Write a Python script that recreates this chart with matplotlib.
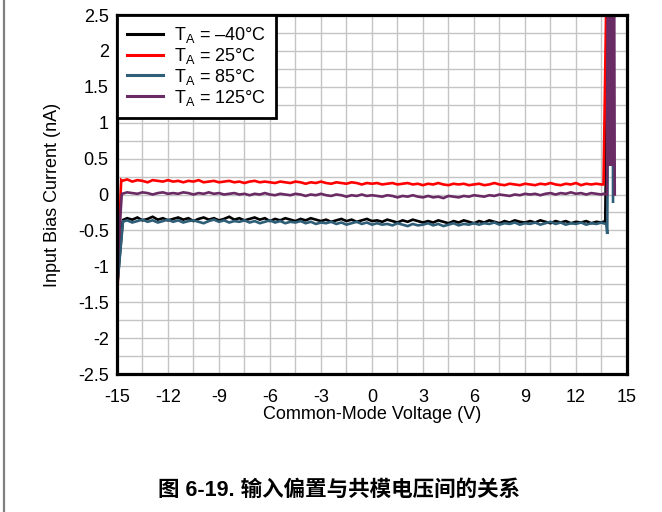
import numpy as np
import matplotlib
matplotlib.use("Agg")
import matplotlib.pyplot as plt
from matplotlib.lines import Line2D
from matplotlib.ticker import MultipleLocator

plt.rcParams['font.family'] = ['Liberation Sans', 'Noto Sans CJK SC', 'DejaVu Sans']
plt.rcParams['mathtext.fontset'] = 'custom'
plt.rcParams['mathtext.rm'] = 'Liberation Sans'
plt.rcParams['axes.unicode_minus'] = False

# common plateau sampling (V)
v_flat = np.linspace(-14.7, 13.5, 95)

labels = ['T$_\\mathregular{A}$ = \u201340°C', 'T$_\\mathregular{A}$ = 25°C',
          'T$_\\mathregular{A}$ = 85°C', 'T$_\\mathregular{A}$ = 125°C']
colors = ['#000000', '#ff0000', '#2f5f78', '#6a2a64']

# input bias current plateau (nA)
i_m40 = [-0.36, -0.33, -0.35, -0.32, -0.36, -0.34, -0.31, -0.35, -0.33, -0.36,
         -0.34, -0.32, -0.35, -0.33, -0.37, -0.34, -0.32, -0.35, -0.33, -0.36,
         -0.34, -0.31, -0.35, -0.33, -0.36, -0.34, -0.32, -0.35, -0.33, -0.37,
         -0.34, -0.36, -0.33, -0.35, -0.37, -0.34, -0.36, -0.33, -0.35, -0.37,
         -0.35, -0.38, -0.36, -0.34, -0.37, -0.35, -0.38, -0.36, -0.34, -0.37,
         -0.36, -0.38, -0.35, -0.37, -0.39, -0.36, -0.38, -0.35, -0.37, -0.39,
         -0.37, -0.39, -0.36, -0.38, -0.40, -0.37, -0.39, -0.36, -0.38, -0.40,
         -0.37, -0.39, -0.36, -0.38, -0.40, -0.37, -0.39, -0.36, -0.38, -0.39,
         -0.37, -0.39, -0.36, -0.38, -0.40, -0.37, -0.39, -0.37, -0.40, -0.38,
         -0.39, -0.37, -0.40, -0.38, -0.39]
i_25 = [0.19, 0.21, 0.18, 0.20, 0.19, 0.17, 0.20, 0.19, 0.18, 0.20,
        0.18, 0.19, 0.17, 0.19, 0.18, 0.20, 0.17, 0.18, 0.19, 0.17,
        0.18, 0.19, 0.17, 0.18, 0.16, 0.18, 0.19, 0.17, 0.18, 0.17,
        0.16, 0.18, 0.17, 0.16, 0.18, 0.17, 0.15, 0.17, 0.16, 0.18,
        0.16, 0.15, 0.17, 0.16, 0.15, 0.17, 0.16, 0.14, 0.16, 0.15,
        0.16, 0.14, 0.15, 0.16, 0.14, 0.15, 0.16, 0.14, 0.15, 0.13,
        0.15, 0.14, 0.16, 0.14, 0.13, 0.15, 0.14, 0.15, 0.13, 0.14,
        0.15, 0.13, 0.14, 0.16, 0.14, 0.13, 0.15, 0.14, 0.13, 0.15,
        0.14, 0.13, 0.15, 0.14, 0.16, 0.14, 0.13, 0.15, 0.14, 0.16,
        0.13, 0.15, 0.14, 0.15, 0.14]
i_85 = [-0.38, -0.36, -0.39, -0.37, -0.35, -0.38, -0.36, -0.39, -0.37, -0.35,
        -0.38, -0.36, -0.39, -0.37, -0.36, -0.38, -0.40, -0.37, -0.35, -0.38,
        -0.36, -0.39, -0.37, -0.38, -0.36, -0.39, -0.37, -0.40, -0.38, -0.36,
        -0.39, -0.37, -0.40, -0.38, -0.39, -0.37, -0.40, -0.38, -0.41, -0.39,
        -0.40, -0.38, -0.41, -0.39, -0.42, -0.40, -0.38, -0.41, -0.39, -0.42,
        -0.40, -0.42, -0.41, -0.43, -0.40, -0.42, -0.44, -0.41, -0.43, -0.42,
        -0.40, -0.43, -0.41, -0.44, -0.42, -0.40, -0.43, -0.41, -0.42, -0.40,
        -0.42, -0.40, -0.41, -0.39, -0.42, -0.40, -0.41, -0.39, -0.42, -0.40,
        -0.41, -0.39, -0.42, -0.40, -0.38, -0.41, -0.39, -0.42, -0.40, -0.41,
        -0.39, -0.42, -0.40, -0.41, -0.39]
i_125 = [0.01, 0.03, 0.02, 0.01, 0.03, 0.02, 0.00, 0.02, 0.03, 0.01,
         0.02, 0.01, 0.03, 0.02, 0.00, 0.02, 0.01, 0.03, 0.01, 0.02,
         0.00, 0.01, 0.02, 0.00, 0.01, -0.01, 0.01, 0.00, 0.02, 0.00,
         -0.01, 0.01, 0.00, -0.01, 0.01, 0.00, -0.02, 0.00, -0.01, 0.01,
         -0.01, -0.02, 0.00, -0.01, -0.03, -0.01, -0.02, 0.00, -0.02, -0.01,
         -0.02, -0.03, -0.01, -0.02, -0.04, -0.02, -0.03, -0.01, -0.03, -0.04,
         -0.02, -0.04, -0.03, -0.05, -0.02, -0.03, -0.04, -0.02, -0.03, -0.01,
         -0.02, -0.03, -0.01, -0.02, 0.00, -0.01, -0.02, 0.00, -0.01, 0.01,
         0.00, 0.01, -0.01, 0.01, 0.02, 0.00, 0.02, 0.01, 0.03, 0.01,
         0.02, 0.00, 0.02, 0.01, 0.00]

# start-up edge near -15 V and the rail edge near +14 V
start_v = {'m40': [-14.97, -14.66], '25': [-14.95, -14.78, -14.75],
           '85': [-14.97, -14.65], '125': [-14.96, -14.93, -14.72]}
start_i = {'m40': [-1.22, -0.36], '25': [-1.22, 0.05, 0.20],
           '85': [-1.24, -0.38], '125': [-1.22, -0.80, 0.00]}
end_v = {'m40': [13.6, 13.72, 13.9], '25': [13.62, 13.8],
         '85': [13.6, 13.78, 13.84, 13.92, 14.15, 14.18],
         '125': [13.6, 13.82, 13.88, 13.94, 14.0, 14.06, 14.12, 14.18, 14.24, 14.28]}
end_i = {'m40': [-0.38, -0.40, 3.0], '25': [0.14, 3.0],
         '85': [-0.40, -0.41, -0.55, 3.0, 3.0, -0.10],
         '125': [0.01, 0.00, 3.5, 0.4, 3.5, 0.4, 3.5, 0.4, 3.5, 0.00]}

flat = {'m40': i_m40, '25': i_25, '85': i_85, '125': i_125}
keys = ['m40', '25', '85', '125']

fs = 13

fig = plt.figure(figsize=(6.62, 5.12), dpi=100)
ax = fig.add_axes([0.1767, 0.2695, 0.7704, 0.7012])

for k, lab, c in zip(keys, labels, colors):
    v = np.concatenate([start_v[k], v_flat, end_v[k]])
    i = np.concatenate([start_i[k], flat[k], end_i[k]])
    ax.plot(v, i, color=c, lw=1.9, label=lab, solid_joinstyle='miter')

ax.set_xlim(-15, 15)
ax.set_ylim(-2.5, 2.5)
ax.xaxis.set_major_locator(MultipleLocator(3))
ax.xaxis.set_minor_locator(MultipleLocator(1.5))
ax.yaxis.set_major_locator(MultipleLocator(0.5))
ax.yaxis.set_minor_locator(MultipleLocator(0.25))
ax.set_yticks(np.arange(-2.5, 2.51, 0.5))
ax.set_yticklabels(['-2.5', '-2', '-1.5', '-1', '-0.5', '0', '0.5', '1', '1.5', '2', '2.5'])
ax.grid(which='both', color='#c4c4c4', lw=1.0)
ax.set_axisbelow(True)
ax.tick_params(which='both', length=0, labelsize=fs)
ax.tick_params(axis='x', pad=11)
ax.tick_params(axis='y', pad=6)
for s in ax.spines.values():
    s.set_linewidth(2.3)

ax.set_xlabel('Common-Mode Voltage (V)', fontsize=fs, labelpad=0)
ax.set_ylabel('Input Bias Current (nA)', fontsize=fs, labelpad=12)

leg = ax.legend(loc='upper left', bbox_to_anchor=(0, 1), borderaxespad=0,
                fancybox=False, framealpha=1, edgecolor='black', fontsize=fs,
                handlelength=2.0, handletextpad=0.6, labelspacing=0.05,
                borderpad=0.55)
leg.get_frame().set_linewidth(2.0)
for h in leg.get_lines():
    h.set_linewidth(2.2)

fig.add_artist(Line2D([0.006, 0.006], [0, 1], transform=fig.transFigure,
                      color='#7f7f7f', lw=1.6))
fig.text(0.512, 0.043, '图 6-19. 输入偏置与共模电压间的关系', ha='center', va='center',
         fontsize=15.5, fontweight='bold')

fig.savefig('out.png', dpi=100)
